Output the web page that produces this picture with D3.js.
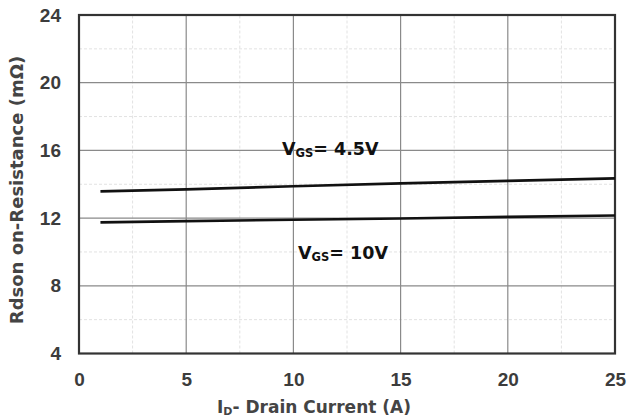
<!DOCTYPE html>
<html><head><meta charset="utf-8">
<script src="https://cdn.jsdelivr.net/npm/d3@7"></script>
<style>body{margin:0;background:#fff}svg{display:block;font-family:"Liberation Sans",Arial,sans-serif}</style>
</head><body><div id="c"></div>
<script>
const xTicks = [0,5,10,15,20,25];
const yTicks = [4,8,12,16,20,24];
const currentA = [1,5,10,15,20,25];
const rdson45 = [13.58,13.7,13.88,14.05,14.2,14.35];
const rdson10 = [11.75,11.82,11.9,11.98,12.07,12.15];

const W=627,H=419, m={l:79,r:12,t:15,b:66};
const svg=d3.select("#c").append("svg").attr("width",W).attr("height",H);
const x=d3.scaleLinear().domain([0,25]).range([m.l,W-m.r]);
const y=d3.scaleLinear().domain([4,24]).range([H-m.b+0.5,m.t]);
const g=svg.append("g");
const minorX=d3.range(2.5,25,5), minorY=d3.range(6,24,4);
g.selectAll(".mx").data(minorX).join("line").attr("x1",d=>x(d)).attr("x2",d=>x(d)).attr("y1",y(4)).attr("y2",y(24))
 .attr("stroke","#e2e2e2").attr("stroke-dasharray","3,2");
g.selectAll(".my").data(minorY).join("line").attr("y1",d=>y(d)).attr("y2",d=>y(d)).attr("x1",x(0)).attr("x2",x(25))
 .attr("stroke","#e2e2e2").attr("stroke-dasharray","3,2");
g.selectAll(".gx").data(xTicks.slice(1,-1)).join("line").attr("x1",d=>x(d)).attr("x2",d=>x(d)).attr("y1",y(4)).attr("y2",y(24))
 .attr("stroke","#8a8a8a").attr("stroke-width",1.2);
g.selectAll(".gy").data(yTicks.slice(1,-1)).join("line").attr("y1",d=>y(d)).attr("y2",d=>y(d)).attr("x1",x(0)).attr("x2",x(25))
 .attr("stroke","#8a8a8a").attr("stroke-width",1.2);
svg.append("rect").attr("x",x(0)).attr("y",y(24)).attr("width",x(25)-x(0)).attr("height",y(4)-y(24))
 .attr("fill","none").attr("stroke","#333").attr("stroke-width",2.2);
const xa=svg.append("g").attr("transform",`translate(0,${y(4)})`).call(d3.axisBottom(x).tickValues(xTicks).tickSize(0).tickPadding(19));
const ya=svg.append("g").attr("transform",`translate(${x(0)},0)`).call(d3.axisLeft(y).tickValues(yTicks).tickSize(0).tickPadding(18));
[xa,ya].forEach(a=>{a.select(".domain").remove();a.selectAll("text").attr("font-size",19).attr("font-weight","bold").attr("fill","#3c3c3c").attr("font-family","Liberation Sans,Arial,sans-serif");});
const line=d3.line().x((d,i)=>x(currentA[i])).y(d=>y(d));
[rdson45,rdson10].forEach(s=>svg.append("path").datum(s).attr("d",line).attr("fill","none").attr("stroke","#111").attr("stroke-width",2.6));
const heavy="DejaVu Sans, sans-serif";
function vgs(px,py,val){
  const t=svg.append("text").attr("x",px).attr("y",py).attr("font-size",17.5).attr("font-weight","bold").attr("fill","#111").attr("font-family",heavy);
  t.append("tspan").text("V");
  t.append("tspan").attr("font-size",11.5).attr("dy",2).text("GS");
  t.append("tspan").attr("dy",-2).text("= "+val);
}
vgs(282,155,"4.5V");
vgs(298,259,"10V");
svg.append("text").attr("transform",`translate(23,190) rotate(-90)`).attr("text-anchor","middle").attr("font-family",heavy)
 .attr("font-size",18).attr("font-weight","bold").attr("fill","#444").text("Rdson on-Resistance (mΩ)");
const xt=svg.append("text").attr("x",314).attr("y",413).attr("text-anchor","middle").attr("font-size",17).attr("font-weight","bold").attr("fill","#444").attr("font-family",heavy);
xt.append("tspan").text("I");
xt.append("tspan").attr("font-size",11).attr("dy",2).text("D");
xt.append("tspan").attr("dy",-2).text("- Drain Current (A)");
</script></body></html>
